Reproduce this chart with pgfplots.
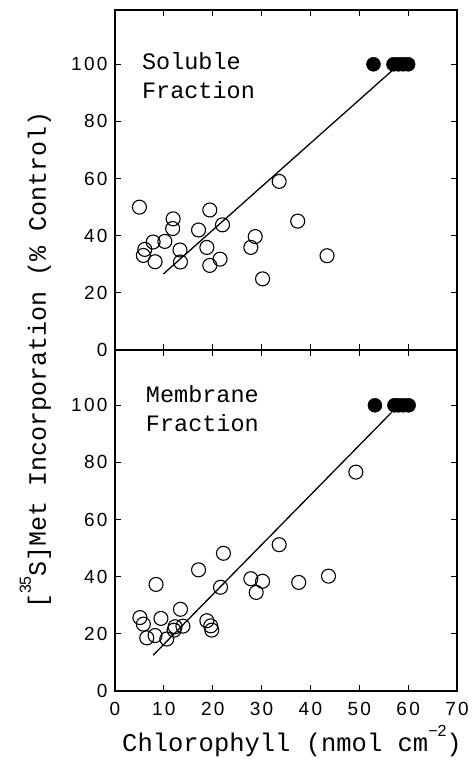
\documentclass[border=0pt]{standalone}
\usepackage{fontspec}
\setmainfont{Liberation Mono}
\newfontfamily\helv{Liberation Sans}
\newfontfamily\tickfont{Liberation Sans}[LetterSpace=12]
\usepackage{pgfplots}
\pgfplotsset{compat=1.18}
\pgfplotsset{
  panel/.style={
    scale only axis, width=342pt,
    xmin=0, xmax=70, ymin=0,
    xtick={0,10,...,70}, ytick={0,20,...,100},
    tick align=inside, major tick length=6pt,
    xtick pos=both, ytick pos=both,
    xticklabel pos=bottom, yticklabel pos=left,
    every tick label/.append style={font=\fontsize{19}{19}\selectfont\tickfont},
    /pgf/number format/assume math mode=true,
    axis line style={line width=1.2pt},
    every tick/.style={line width=1pt, black},
    every y tick label/.append style={xshift=-4pt},
    every x tick label/.append style={yshift=-8pt},
    clip=false,
  },
  opn/.style={only marks, mark=o, mark size=7pt, mark options={line width=1.1pt, black}},
  fld/.style={only marks, mark=*, mark size=7pt, mark options={line width=0.5pt, black, fill=black}},
  fit/.style={no marks, line width=1.3pt, black},
}
\begin{document}
\begin{tikzpicture}
\path (0pt,0pt) rectangle (473pt,763pt);
% Upper panel
\begin{axis}[panel, at={(115pt,413pt)}, anchor=south west, height=340pt, ymax=119, xticklabels={}]
\addplot[fit] coordinates {(9.9,26.6) (56.6,97.6)};
\addplot[opn] coordinates {
(5,50) (6.1,35.2) (5.8,33.1) (7.8,37.8) (8.2,30.9) (10.2,38) (11.9,45.9) (11.8,42.5)
(13.3,35) (13.4,30.8) (17.1,42) (19.4,49) (18.8,35.9) (19.4,29.6) (21.5,31.8) (22,43.8)
(27.8,35.9) (28.7,39.7) (30.2,24.9) (33.6,59) (37.4,45.1) (43.4,33)};
\addplot[fld] coordinates {(52.9,100) (57,100) (58,100) (59,100) (60,100)};
\node[anchor=base west, font=\fontsize{23.5}{23.5}\selectfont, inner sep=0pt] at (axis cs:5.5,98.3) {Soluble};
\node[anchor=base west, font=\fontsize{23.5}{23.5}\selectfont, inner sep=0pt] at (axis cs:5.5,88.1) {Fraction};
\end{axis}
% Lower panel
\begin{axis}[panel, at={(115pt,72pt)}, anchor=south west, height=341pt, ymax=119.35]
\addplot[fit] coordinates {(7.8,12.5) (56.6,97.5)};
\addplot[opn] coordinates {
(5.1,25.7) (5.8,23.4) (6.5,18.6) (8.4,37.3) (8.2,19.4) (9.4,25.4) (10.6,18.2) (12.1,21.3)
(12.3,22.5) (13.9,22.7) (13.4,28.6) (17.1,42.4) (18.8,24.6) (19.6,22.8) (19.8,21.3)
(21.6,36.3) (22.2,48.2) (27.8,39.3) (30.2,38.4) (28.9,34.5) (33.6,51.2) (37.6,38)
(43.7,40.2) (49.3,76.6)};
\addplot[fld] coordinates {(53.2,100) (57.2,100) (58,100) (59,100) (60.1,100)};
\node[anchor=base west, font=\fontsize{23.5}{23.5}\selectfont, inner sep=0pt] at (axis cs:6.3,101) {Membrane};
\node[anchor=base west, font=\fontsize{23.5}{23.5}\selectfont, inner sep=0pt] at (axis cs:6.3,90.9) {Fraction};
\end{axis}
% Axis titles
\node[anchor=base, font=\fontsize{25.5}{25.5}\selectfont, inner sep=0pt] at (292pt,11pt)
  {Chlorophyll (nmol cm\raisebox{0.6em}{\helv\fontsize{16}{16}\selectfont \char"2212 2})};
\node[anchor=base, rotate=90, font=\fontsize{25}{25}\selectfont, inner sep=0pt] at (46pt,403pt)
  {[\raisebox{0.6em}{\helv\fontsize{16}{16}\selectfont 35}S]Met Incorporation (\% Control)};
\end{tikzpicture}
\end{document}
